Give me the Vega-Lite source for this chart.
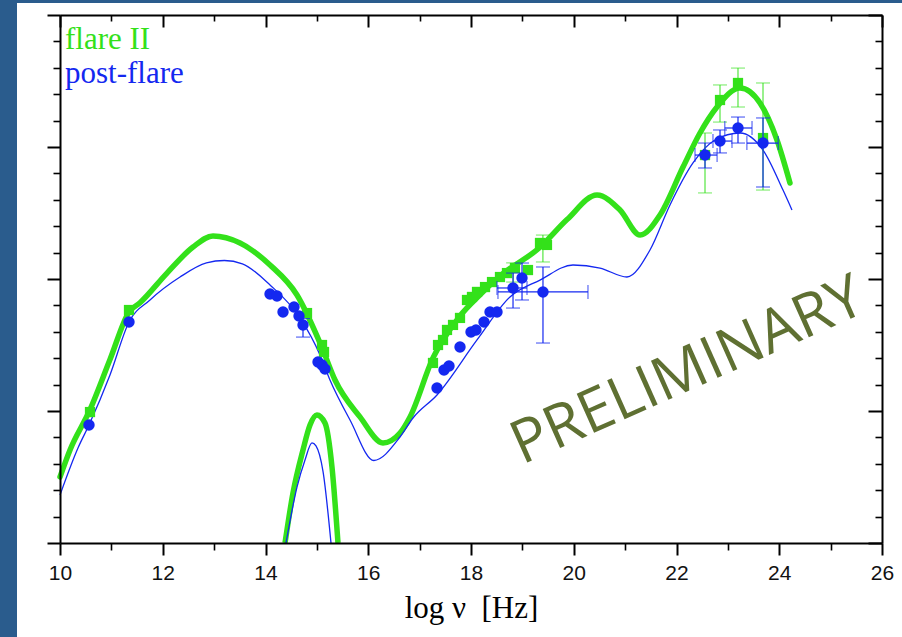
{
  "$schema": "https://vega.github.io/schema/vega-lite/v6.json",
  "width": 822,
  "height": 528,
  "autosize": {"type": "none"},
  "padding": {"left": 60, "top": 15, "right": 20, "bottom": 94},
  "background": "#2A5C8D",
  "config": {"view": {"stroke": null}, "axis": {"grid": false, "domainColor": "#000", "tickColor": "#000", "labelFlush": false, "labelOverlap": false, "zindex": 1}},
  "resolve": {"axis": {"x": "independent", "y": "independent"}},
  "datasets": {
    "curves": [
      {"s":"f","p":"m","x":10.0,"y":-12.5},{"s":"f","p":"m","x":10.195,"y":-12.295},{"s":"f","p":"m","x":10.584,"y":-11.99},{"s":"f","p":"m","x":10.973,"y":-11.61},{"s":"f","p":"m","x":11.343,"y":-11.25},{"s":"f","p":"m","x":11.557,"y":-11.18},{"s":"f","p":"m","x":12.083,"y":-10.955},{"s":"f","p":"m","x":12.589,"y":-10.758},{"s":"f","p":"m","x":12.978,"y":-10.674},{"s":"f","p":"m","x":13.504,"y":-10.727},{"s":"f","p":"m","x":14.088,"y":-10.894},{"s":"f","p":"m","x":14.613,"y":-11.121},{"s":"f","p":"m","x":15.1,"y":-11.52},{"s":"f","p":"m","x":15.353,"y":-11.765},{"s":"f","p":"m","x":15.839,"y":-12.045},{"s":"f","p":"m","x":16.287,"y":-12.242},{"s":"f","p":"m","x":16.618,"y":-12.167},{"s":"f","p":"m","x":16.813,"y":-12.045},{"s":"f","p":"m","x":17.26,"y":-11.598},{"s":"f","p":"m","x":17.786,"y":-11.28},{"s":"f","p":"m","x":18.175,"y":-11.12},{"s":"f","p":"m","x":18.564,"y":-10.977},{"s":"f","p":"m","x":19.343,"y":-10.76},{"s":"f","p":"m","x":19.869,"y":-10.55},{"s":"f","p":"m","x":20.453,"y":-10.364},{"s":"f","p":"m","x":20.9,"y":-10.477},{"s":"f","p":"m","x":21.29,"y":-10.667},{"s":"f","p":"m","x":21.679,"y":-10.515},{"s":"f","p":"m","x":22.127,"y":-10.152},{"s":"f","p":"m","x":22.457,"y":-9.894},{"s":"f","p":"m","x":22.788,"y":-9.697},{"s":"f","p":"m","x":23.236,"y":-9.553},{"s":"f","p":"m","x":23.625,"y":-9.667},{"s":"f","p":"m","x":23.956,"y":-9.947},{"s":"f","p":"m","x":24.209,"y":-10.273},
      {"s":"f","p":"d","x":14.38,"y":-13.0},{"s":"f","p":"d","x":14.535,"y":-12.621},{"s":"f","p":"d","x":14.73,"y":-12.295},{"s":"f","p":"d","x":14.866,"y":-12.106},{"s":"f","p":"d","x":15.002,"y":-12.03},{"s":"f","p":"d","x":15.158,"y":-12.091},{"s":"f","p":"d","x":15.294,"y":-12.424},{"s":"f","p":"d","x":15.411,"y":-13.0},
      {"s":"b","p":"m","x":10.0,"y":-12.636},{"s":"b","p":"m","x":10.35,"y":-12.28},{"s":"b","p":"m","x":10.564,"y":-12.106},{"s":"b","p":"m","x":10.973,"y":-11.727},{"s":"b","p":"m","x":11.343,"y":-11.326},{"s":"b","p":"m","x":11.752,"y":-11.159},{"s":"b","p":"m","x":12.336,"y":-10.985},{"s":"b","p":"m","x":12.85,"y":-10.878},{"s":"b","p":"m","x":13.2,"y":-10.86},{"s":"b","p":"m","x":13.55,"y":-10.885},{"s":"b","p":"m","x":14.088,"y":-11.045},{"s":"b","p":"m","x":14.672,"y":-11.295},{"s":"b","p":"m","x":15.061,"y":-11.576},{"s":"b","p":"m","x":15.255,"y":-11.765},{"s":"b","p":"m","x":15.645,"y":-12.068},{"s":"b","p":"m","x":16.11,"y":-12.375},{"s":"b","p":"m","x":16.618,"y":-12.197},{"s":"b","p":"m","x":16.871,"y":-12.053},{"s":"b","p":"m","x":17.338,"y":-11.879},{"s":"b","p":"m","x":18.117,"y":-11.462},{"s":"b","p":"m","x":18.759,"y":-11.136},{"s":"b","p":"m","x":19.343,"y":-11.008},{"s":"b","p":"m","x":19.985,"y":-10.894},{"s":"b","p":"m","x":20.511,"y":-10.917},{"s":"b","p":"m","x":21.036,"y":-10.985},{"s":"b","p":"m","x":21.484,"y":-10.78},{"s":"b","p":"m","x":21.873,"y":-10.439},{"s":"b","p":"m","x":22.321,"y":-10.121},{"s":"b","p":"m","x":22.749,"y":-9.947},{"s":"b","p":"m","x":23.236,"y":-9.894},{"s":"b","p":"m","x":23.684,"y":-10.023},{"s":"b","p":"m","x":24.073,"y":-10.326},{"s":"b","p":"m","x":24.248,"y":-10.477},
      {"s":"b","p":"d","x":14.399,"y":-13.0},{"s":"b","p":"d","x":14.613,"y":-12.576},{"s":"b","p":"d","x":14.769,"y":-12.371},{"s":"b","p":"d","x":14.905,"y":-12.242},{"s":"b","p":"d","x":14.983,"y":-12.265},{"s":"b","p":"d","x":15.12,"y":-12.46},{"s":"b","p":"d","x":15.275,"y":-13.0}
    ],
    "fpts": [
      {"x":10.584,"y":-12.008},{"x":11.343,"y":-11.235},{"x":14.808,"y":-11.258},{"x":15.1,"y":-11.5},{"x":15.139,"y":-11.553},{"x":17.26,"y":-11.636},{"x":17.358,"y":-11.5},{"x":17.455,"y":-11.462},{"x":17.533,"y":-11.386},{"x":17.65,"y":-11.348},{"x":17.786,"y":-11.295},{"x":17.922,"y":-11.159},{"x":18.019,"y":-11.136},{"x":18.117,"y":-11.098},{"x":18.273,"y":-11.061},{"x":18.409,"y":-11.023},{"x":18.564,"y":-10.985},{"x":18.7,"y":-10.955},{"x":18.856,"y":-10.917},{"x":19.109,"y":-10.932},{"x":19.343,"y":-10.727},{"x":19.479,"y":-10.742},{"x":22.555,"y":-10.061},{"x":22.847,"y":-9.644},{"x":23.197,"y":-9.515},{"x":23.684,"y":-9.932}
    ],
    "ferr": [
      {"x":18.82,"lo":-11.023,"hi":-10.878},{"x":19.4,"lo":-10.871,"hi":-10.667},{"x":22.555,"lo":-10.348,"hi":-9.894},{"x":22.847,"lo":-9.811,"hi":-9.53},{"x":23.197,"lo":-9.697,"hi":-9.402},{"x":23.684,"lo":-10.326,"hi":-9.515}
    ],
    "bpts": [
      {"x":10.564,"y":-12.106},{"x":11.343,"y":-11.326},{"x":14.088,"y":-11.114},{"x":14.224,"y":-11.129},{"x":14.341,"y":-11.25},{"x":14.555,"y":-11.212},{"x":14.652,"y":-11.28},{"x":14.73,"y":-11.348},{"x":15.022,"y":-11.629},{"x":15.1,"y":-11.652},{"x":15.158,"y":-11.682},{"x":17.338,"y":-11.826},{"x":17.475,"y":-11.689},{"x":17.572,"y":-11.659},{"x":17.786,"y":-11.515},{"x":18.0,"y":-11.402},{"x":18.097,"y":-11.386},{"x":18.253,"y":-11.326},{"x":18.37,"y":-11.25},{"x":18.506,"y":-11.25},{"x":18.818,"y":-11.068},{"x":18.993,"y":-10.992},{"x":19.401,"y":-11.098},{"x":22.555,"y":-10.061},{"x":22.847,"y":-9.955},{"x":23.197,"y":-9.856},{"x":23.684,"y":-9.97}
    ],
    "berr": [
      {"x":14.73,"lo":-11.44,"hi":-11.3},{"x":18.818,"lo":-11.22,"hi":-10.955},{"x":18.993,"lo":-11.159,"hi":-10.879},{"x":19.401,"lo":-11.485,"hi":-10.909},{"x":22.555,"lo":-10.159,"hi":-9.97},{"x":22.847,"lo":-10.045,"hi":-9.871},{"x":23.197,"lo":-9.97,"hi":-9.773},{"x":23.684,"lo":-10.303,"hi":-9.78}
    ],
    "bxerr": [
      {"y":-11.068,"lo":18.506,"hi":19.09},{"y":-11.098,"lo":18.525,"hi":20.277},{"y":-10.061,"lo":22.36,"hi":22.79},{"y":-9.955,"lo":22.71,"hi":23.08},{"y":-9.856,"lo":22.94,"hi":23.47},{"y":-9.97,"lo":23.37,"hi":23.98}
    ],
    "legend": [
      {"label":"flare II","x":10.097,"y":-9.258},{"label":"post-flare","x":10.097,"y":-9.515}
    ],
    "stamp": [
      {"label":"PRELIMINARY","x":22.36,"y":-11.826}
    ]
  },
  "layer": [
    {
      "data": {"values": [{}]},
      "mark": {"type": "rect", "fill": "#ffffff"},
      "encoding": {
        "x": {"datum": 9.163, "type": "quantitative", "scale": {"domain": [10, 26], "nice": false, "zero": false}, "axis": null},
        "x2": {"datum": 26.8},
        "y": {"datum": -8.909, "type": "quantitative", "scale": {"domain": [-13, -9], "nice": false, "zero": false}, "axis": null},
        "y2": {"datum": -13.9}
      }
    },
    {
      "data": {"name": "curves"},
      "transform": [{"filter": "datum.s === 'f' && datum.p === 'm'"}],
      "mark": {"type": "line", "color": "#33E11A", "strokeWidth": 5.5, "interpolate": "monotone", "strokeCap": "round"},
      "encoding": {
        "x": {"field": "x", "type": "quantitative", "scale": {"domain": [10, 26], "nice": false, "zero": false},
          "axis": {"orient": "bottom", "zindex": 1, "values": [10, 12, 14, 16, 18, 20, 22, 24, 26], "format": "d", "tickSize": 12, "tickWidth": 2, "labelFont": "Liberation Sans", "labelFontSize": 21, "labelColor": "#111111", "labelPadding": 7, "domain": true, "domainWidth": 2, "title": "log ν\u00a0 [Hz]", "titleFont": "Liberation Serif", "titleFontSize": 31, "titleFontWeight": "normal", "titleColor": "#000000", "titlePadding": 10, "grid": false}},
        "y": {"field": "y", "type": "quantitative", "scale": {"domain": [-13, -9], "nice": false, "zero": false},
          "axis": {"orient": "left", "zindex": 1, "values": [-13, -12, -11, -10, -9], "tickSize": 13, "tickWidth": 2, "labels": false, "domain": true, "domainWidth": 2, "title": null, "grid": false}}
      }
    },
    {
      "data": {"name": "curves"},
      "transform": [{"filter": "datum.s === 'f' && datum.p === 'd'"}],
      "mark": {"type": "line", "color": "#33E11A", "strokeWidth": 5.5, "interpolate": "monotone", "clip": true},
      "encoding": {
        "x": {"field": "x", "type": "quantitative", "scale": {"domain": [10, 26], "nice": false, "zero": false},
          "axis": {"orient": "bottom", "zindex": 1, "values": [11, 13, 15, 17, 19, 21, 23, 25], "tickSize": 7, "tickWidth": 1.6, "labels": false, "domain": false, "title": null, "grid": false}},
        "y": {"field": "y", "type": "quantitative", "scale": {"domain": [-13, -9], "nice": false, "zero": false},
          "axis": {"orient": "left", "zindex": 1, "values": [-12.8, -12.6, -12.4, -12.2, -11.8, -11.6, -11.4, -11.2, -10.8, -10.6, -10.4, -10.2, -9.8, -9.6, -9.4, -9.2], "tickSize": 7, "tickWidth": 1.6, "labels": false, "domain": false, "title": null, "grid": false}}
      }
    },
    {
      "data": {"name": "curves"},
      "transform": [{"filter": "datum.s === 'b' && datum.p === 'm'"}],
      "mark": {"type": "line", "color": "#1428F0", "strokeWidth": 1.3, "interpolate": "monotone"},
      "encoding": {
        "x": {"field": "x", "type": "quantitative", "scale": {"domain": [10, 26], "nice": false, "zero": false},
          "axis": {"orient": "top", "zindex": 1, "values": [10, 12, 14, 16, 18, 20, 22, 24, 26], "tickSize": -12, "tickWidth": 2, "labels": false, "domain": true, "domainWidth": 2, "title": null, "grid": false}},
        "y": {"field": "y", "type": "quantitative", "scale": {"domain": [-13, -9], "nice": false, "zero": false},
          "axis": {"orient": "right", "zindex": 1, "values": [-13, -12, -11, -10, -9], "tickSize": -14, "tickWidth": 2, "labels": false, "domain": true, "domainWidth": 2, "title": null, "grid": false}}
      }
    },
    {
      "data": {"name": "curves"},
      "transform": [{"filter": "datum.s === 'b' && datum.p === 'd'"}],
      "mark": {"type": "line", "color": "#1428F0", "strokeWidth": 1.3, "interpolate": "monotone", "clip": true},
      "encoding": {
        "x": {"field": "x", "type": "quantitative", "scale": {"domain": [10, 26], "nice": false, "zero": false},
          "axis": {"orient": "top", "zindex": 1, "values": [11, 13, 15, 17, 19, 21, 23, 25], "tickSize": -6, "tickWidth": 1.6, "labels": false, "domain": false, "title": null, "grid": false}},
        "y": {"field": "y", "type": "quantitative", "scale": {"domain": [-13, -9], "nice": false, "zero": false},
          "axis": {"orient": "right", "zindex": 1, "values": [-12.8, -12.6, -12.4, -12.2, -11.8, -11.6, -11.4, -11.2, -10.8, -10.6, -10.4, -10.2, -9.8, -9.6, -9.4, -9.2], "tickSize": -7, "tickWidth": 1.6, "labels": false, "domain": false, "title": null, "grid": false}}
      }
    },
    {
      "data": {"name": "ferr"},
      "mark": {"type": "rule", "color": "#33E11A", "strokeWidth": 1},
      "encoding": {
        "x": {"field": "x", "type": "quantitative", "scale": {"domain": [10, 26], "nice": false, "zero": false}, "axis": null},
        "y": {"field": "lo", "type": "quantitative", "scale": {"domain": [-13, -9], "nice": false, "zero": false}, "axis": null},
        "y2": {"field": "hi"}
      }
    },
    {
      "data": {"name": "ferr"},
      "transform": [{"fold": ["lo", "hi"], "as": ["k", "v"]}],
      "mark": {"type": "tick", "color": "#33E11A", "orient": "horizontal", "size": 14, "thickness": 1},
      "encoding": {
        "x": {"field": "x", "type": "quantitative", "scale": {"domain": [10, 26], "nice": false, "zero": false}, "axis": null},
        "y": {"field": "v", "type": "quantitative", "scale": {"domain": [-13, -9], "nice": false, "zero": false}, "axis": null}
      }
    },
    {
      "data": {"name": "fpts"},
      "mark": {"type": "point", "shape": "square", "filled": true, "color": "#33E11A", "size": 105, "opacity": 1},
      "encoding": {
        "x": {"field": "x", "type": "quantitative", "scale": {"domain": [10, 26], "nice": false, "zero": false}, "axis": null},
        "y": {"field": "y", "type": "quantitative", "scale": {"domain": [-13, -9], "nice": false, "zero": false}, "axis": null}
      }
    },
    {
      "data": {"name": "berr"},
      "mark": {"type": "rule", "color": "#1428F0", "strokeWidth": 1.2},
      "encoding": {
        "x": {"field": "x", "type": "quantitative", "scale": {"domain": [10, 26], "nice": false, "zero": false}, "axis": null},
        "y": {"field": "lo", "type": "quantitative", "scale": {"domain": [-13, -9], "nice": false, "zero": false}, "axis": null},
        "y2": {"field": "hi"}
      }
    },
    {
      "data": {"name": "berr"},
      "transform": [{"fold": ["lo", "hi"], "as": ["k", "v"]}],
      "mark": {"type": "tick", "color": "#1428F0", "orient": "horizontal", "size": 14, "thickness": 1.2},
      "encoding": {
        "x": {"field": "x", "type": "quantitative", "scale": {"domain": [10, 26], "nice": false, "zero": false}, "axis": null},
        "y": {"field": "v", "type": "quantitative", "scale": {"domain": [-13, -9], "nice": false, "zero": false}, "axis": null}
      }
    },
    {
      "data": {"name": "bxerr"},
      "mark": {"type": "rule", "color": "#1428F0", "strokeWidth": 1.2},
      "encoding": {
        "x": {"field": "lo", "type": "quantitative", "scale": {"domain": [10, 26], "nice": false, "zero": false}, "axis": null},
        "x2": {"field": "hi"},
        "y": {"field": "y", "type": "quantitative", "scale": {"domain": [-13, -9], "nice": false, "zero": false}, "axis": null}
      }
    },
    {
      "data": {"name": "bxerr"},
      "transform": [{"fold": ["lo", "hi"], "as": ["k", "v"]}],
      "mark": {"type": "tick", "color": "#1428F0", "orient": "vertical", "size": 14, "thickness": 1.2},
      "encoding": {
        "x": {"field": "v", "type": "quantitative", "scale": {"domain": [10, 26], "nice": false, "zero": false}, "axis": null},
        "y": {"field": "y", "type": "quantitative", "scale": {"domain": [-13, -9], "nice": false, "zero": false}, "axis": null}
      }
    },
    {
      "data": {"name": "bpts"},
      "mark": {"type": "point", "shape": "circle", "filled": true, "color": "#1428F0", "size": 130, "opacity": 1},
      "encoding": {
        "x": {"field": "x", "type": "quantitative", "scale": {"domain": [10, 26], "nice": false, "zero": false}, "axis": null},
        "y": {"field": "y", "type": "quantitative", "scale": {"domain": [-13, -9], "nice": false, "zero": false}, "axis": null}
      }
    },
    {
      "data": {"name": "legend"},
      "mark": {"type": "text", "align": "left", "baseline": "alphabetic", "font": "Liberation Serif", "fontSize": 31},
      "encoding": {
        "x": {"field": "x", "type": "quantitative", "scale": {"domain": [10, 26], "nice": false, "zero": false}, "axis": null},
        "y": {"field": "y", "type": "quantitative", "scale": {"domain": [-13, -9], "nice": false, "zero": false}, "axis": null},
        "text": {"field": "label"},
        "color": {"field": "label", "type": "nominal", "scale": {"domain": ["flare II", "post-flare"], "range": ["#33E11A", "#1428F0"]}, "legend": null}
      }
    },
    {
      "data": {"name": "stamp"},
      "mark": {"type": "text", "align": "center", "baseline": "alphabetic", "font": "Open Sans", "fontSize": 60, "angle": 336, "color": "#5F7032"},
      "encoding": {
        "x": {"field": "x", "type": "quantitative", "scale": {"domain": [10, 26], "nice": false, "zero": false}, "axis": null},
        "y": {"field": "y", "type": "quantitative", "scale": {"domain": [-13, -9], "nice": false, "zero": false}, "axis": null},
        "text": {"field": "label"}
      }
    }
  ]
}
